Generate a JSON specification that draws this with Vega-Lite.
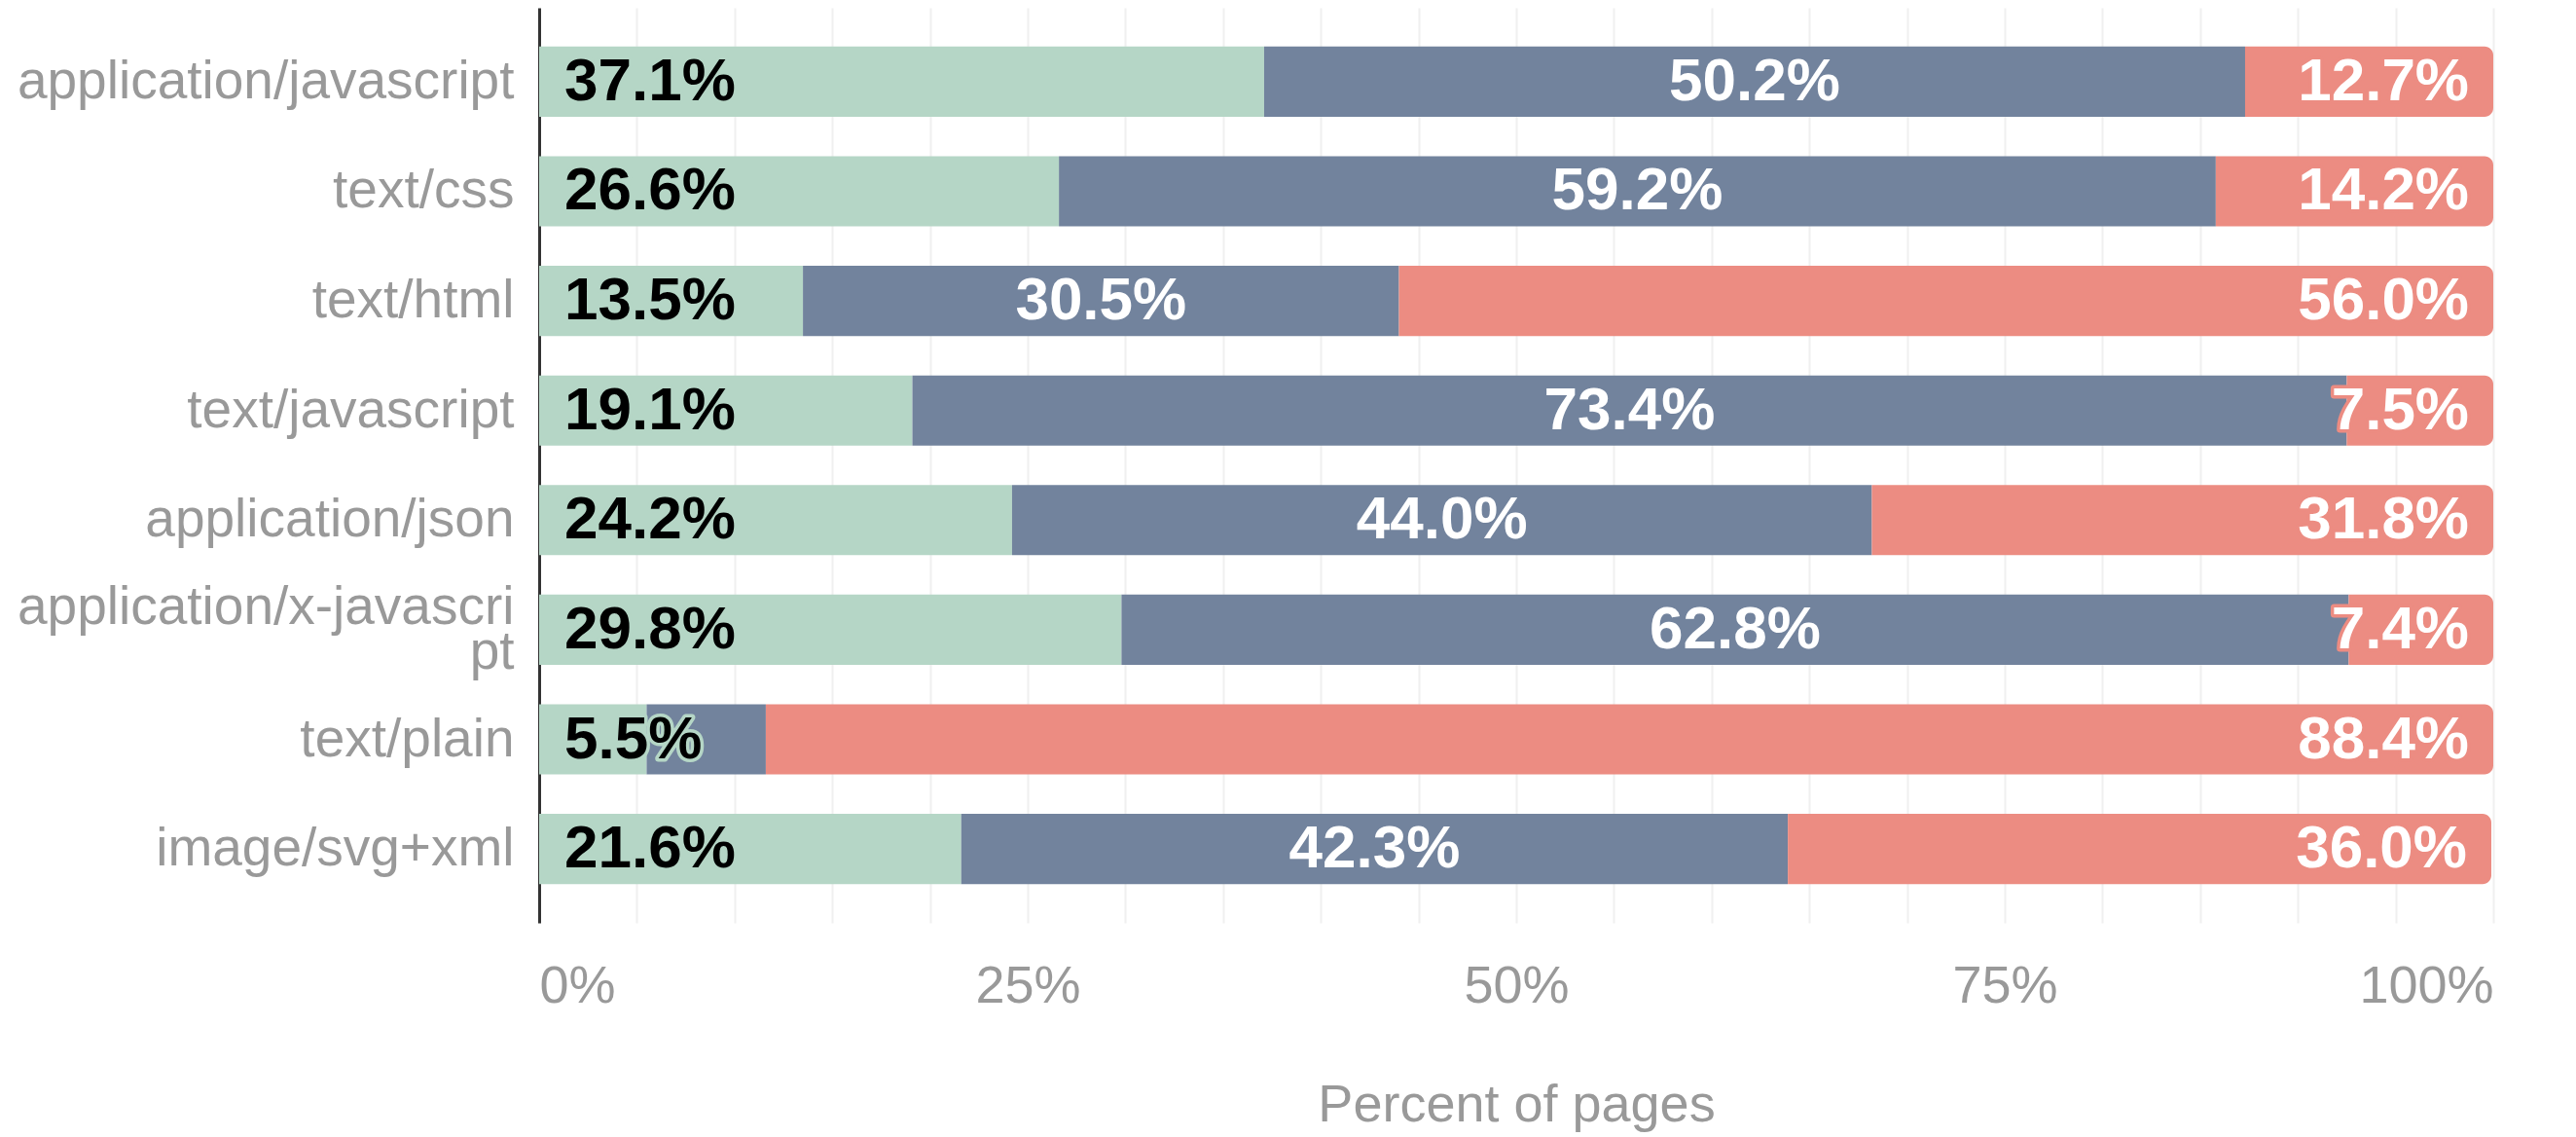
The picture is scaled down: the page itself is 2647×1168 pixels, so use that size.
{
  "$schema": "https://vega.github.io/schema/vega-lite/v6.json",
  "width": 2008,
  "height": 940,
  "autosize": {"type": "none"},
  "padding": {"left": 554, "top": 8, "right": 85, "bottom": 220},
  "background": "white",
  "config": {"view": {"stroke": null}, "font": "Liberation Sans"},
  "data": {
    "values": [
      {"type": "application/javascript", "cat": "Brotli", "value": 0.371},
      {"type": "application/javascript", "cat": "Gzip", "value": 0.502},
      {"type": "application/javascript", "cat": "None", "value": 0.127},
      {"type": "text/css", "cat": "Brotli", "value": 0.266},
      {"type": "text/css", "cat": "Gzip", "value": 0.592},
      {"type": "text/css", "cat": "None", "value": 0.142},
      {"type": "text/html", "cat": "Brotli", "value": 0.135},
      {"type": "text/html", "cat": "Gzip", "value": 0.305},
      {"type": "text/html", "cat": "None", "value": 0.56},
      {"type": "text/javascript", "cat": "Brotli", "value": 0.191},
      {"type": "text/javascript", "cat": "Gzip", "value": 0.734},
      {"type": "text/javascript", "cat": "None", "value": 0.075},
      {"type": "application/json", "cat": "Brotli", "value": 0.242},
      {"type": "application/json", "cat": "Gzip", "value": 0.44},
      {"type": "application/json", "cat": "None", "value": 0.318},
      {"type": "application/x-javascript", "cat": "Brotli", "value": 0.298},
      {"type": "application/x-javascript", "cat": "Gzip", "value": 0.628},
      {"type": "application/x-javascript", "cat": "None", "value": 0.074},
      {"type": "text/plain", "cat": "Brotli", "value": 0.055},
      {"type": "text/plain", "cat": "Gzip", "value": 0.061},
      {"type": "text/plain", "cat": "None", "value": 0.884},
      {"type": "image/svg+xml", "cat": "Brotli", "value": 0.216},
      {"type": "image/svg+xml", "cat": "Gzip", "value": 0.423},
      {"type": "image/svg+xml", "cat": "None", "value": 0.36}
    ]
  },
  "transform": [
    {"stack": "value", "groupby": ["type"], "sort": [{"field": "cat", "order": "ascending"}], "as": ["x0", "x1"]}
  ],
  "encoding": {
    "y": {
      "field": "type",
      "type": "nominal",
      "sort": ["application/javascript", "text/css", "text/html", "text/javascript", "application/json", "application/x-javascript", "text/plain", "image/svg+xml"],
      "scale": {"paddingInner": 0.36, "paddingOuter": 0.354},
      "axis": {
        "title": null,
        "domain": true,
        "domainColor": "#333333",
        "domainWidth": 3,
        "ticks": false,
        "tickSize": 0,
        "grid": false,
        "labelFont": "Liberation Sans",
        "labelFontSize": 55,
        "labelColor": "#999999",
        "labelPadding": 26,
        "labelLimit": 0,
        "labelLineHeight": 46,
        "labelOffset": {"condition": {"test": "datum.value == 'application/x-javascript'", "value": -23}, "value": 0},
        "labelExpr": "datum.label == 'application/x-javascript' ? ['application/x-javascri', 'pt'] : datum.label"
      }
    }
  },
  "layer": [
    {
      "transform": [{"filter": "datum.cat != 'None'"}],
      "mark": {"type": "bar"},
      "encoding": {
        "x": {
          "field": "x0",
          "type": "quantitative",
          "title": "Percent of pages",
          "scale": {"domain": [0, 1], "nice": false},
          "axis": {
            "values": [0, 0.05, 0.1, 0.15, 0.2, 0.25, 0.3, 0.35, 0.4, 0.45, 0.5, 0.55, 0.6, 0.65, 0.7, 0.75, 0.8, 0.85, 0.9, 0.95, 1],
            "labelExpr": "round(datum.value * 100) % 25 == 0 ? format(datum.value, '.0%') : ''",
            "labelOverlap": false,
            "grid": true,
            "gridColor": "#f0f0f0",
            "gridWidth": 2,
            "domain": false,
            "ticks": false,
            "tickSize": 0,
            "labelFont": "Liberation Sans",
            "labelFontSize": 54,
            "labelColor": "#999999",
            "labelPadding": 38,
            "title": "Percent of pages",
            "titleFont": "Liberation Sans",
            "titleFontSize": 54,
            "titleFontWeight": "normal",
            "titleColor": "#999999",
            "titlePadding": 68
          }
        },
        "x2": {"field": "x1"},
        "color": {
          "field": "cat",
          "type": "nominal",
          "scale": {"domain": ["Brotli", "Gzip", "None"], "range": ["#b5d6c6", "#72839d", "#ec8c82"]},
          "legend": null
        }
      }
    },
    {
      "transform": [{"filter": "datum.cat == 'None'"}],
      "mark": {"type": "bar", "cornerRadiusTopRight": 9, "cornerRadiusBottomRight": 9},
      "encoding": {
        "x": {"field": "x0", "type": "quantitative", "title": "Percent of pages"},
        "x2": {"field": "x1"},
        "color": {"field": "cat", "type": "nominal", "legend": null}
      }
    },
    {
      "transform": [{"filter": "datum.cat == 'Brotli'"}],
      "mark": {"type": "text", "align": "left", "baseline": "middle", "dx": 26, "font": "Liberation Sans", "fontSize": 62, "fontWeight": "bold", "stroke": "#b5d6c6", "strokeWidth": 7, "strokeJoin": "round", "fill": "#b5d6c6"},
      "encoding": {
        "x": {"field": "x0", "type": "quantitative", "title": "Percent of pages"},
        "text": {"field": "value", "type": "quantitative", "format": ".1%"}
      }
    },
    {
      "transform": [{"filter": "datum.cat == 'Brotli'"}],
      "mark": {"type": "text", "align": "left", "baseline": "middle", "dx": 26, "font": "Liberation Sans", "fontSize": 62, "fontWeight": "bold", "fill": "#000000"},
      "encoding": {
        "x": {"field": "x0", "type": "quantitative", "title": "Percent of pages"},
        "text": {"field": "value", "type": "quantitative", "format": ".1%"}
      }
    },
    {
      "transform": [
        {"filter": "datum.cat == 'Gzip' && datum.value > 0.1"},
        {"fold": ["x0", "x1"], "as": ["edge", "pos"]}
      ],
      "mark": {"type": "text", "align": "center", "baseline": "middle", "font": "Liberation Sans", "fontSize": 62, "fontWeight": "bold", "fill": "#ffffff"},
      "encoding": {
        "x": {"field": "pos", "aggregate": "mean", "type": "quantitative", "title": "Percent of pages"},
        "text": {"field": "value", "type": "quantitative", "format": ".1%"}
      }
    },
    {
      "transform": [{"filter": "datum.cat == 'None'"}],
      "mark": {"type": "text", "align": "right", "baseline": "middle", "dx": -25, "font": "Liberation Sans", "fontSize": 62, "fontWeight": "bold", "stroke": "#ec8c82", "strokeWidth": 7, "strokeJoin": "round", "fill": "#ec8c82"},
      "encoding": {
        "x": {"field": "x1", "type": "quantitative", "title": "Percent of pages"},
        "text": {"field": "value", "type": "quantitative", "format": ".1%"}
      }
    },
    {
      "transform": [{"filter": "datum.cat == 'None'"}],
      "mark": {"type": "text", "align": "right", "baseline": "middle", "dx": -25, "font": "Liberation Sans", "fontSize": 62, "fontWeight": "bold", "fill": "#ffffff"},
      "encoding": {
        "x": {"field": "x1", "type": "quantitative", "title": "Percent of pages"},
        "text": {"field": "value", "type": "quantitative", "format": ".1%"}
      }
    }
  ]
}
